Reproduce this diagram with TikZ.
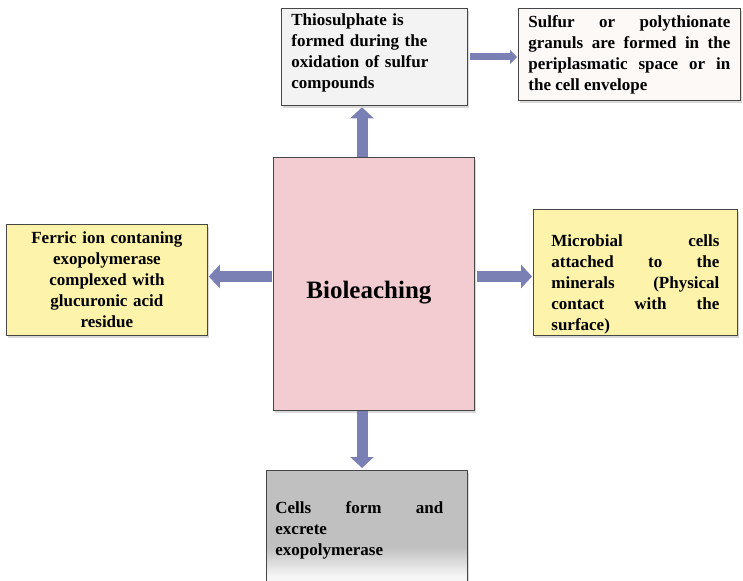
\documentclass[tikz,border=0pt]{standalone}
\usepackage{fontspec}
\setmainfont{Liberation Serif}
\usetikzlibrary{positioning}
\usetikzlibrary{arrows.meta}
\usetikzlibrary{shadows}

\definecolor{arrowblue}{RGB}{122,127,180}
\definecolor{bioPink}{RGB}{242,204,209}
\definecolor{noteYellow}{RGB}{253,243,170}
\definecolor{thioGray}{RGB}{243,243,243}
\definecolor{sulfurWhite}{RGB}{253,249,247}
\definecolor{cellGray}{RGB}{192,192,192}
\definecolor{boxLine}{RGB}{70,70,70}
\pgfdeclareverticalshading{cellshade}{100bp}{color(0bp)=(white); color(31bp)=(white!85!cellGray); color(43bp)=(cellGray); color(100bp)=(cellGray)}

\begin{document}
\begin{tikzpicture}[x=1pt,y=-1pt,font=\fontsize{17}{21}\selectfont\bfseries,
box/.style={draw=boxLine,line width=0.8pt,inner xsep=10pt,inner ysep=0pt,anchor=north west,
drop shadow={shadow xshift=1.5pt,shadow yshift=-2.5pt,opacity=0.3}},
flow/.style={arrowblue,line width=11pt,-{Triangle[width=23pt,length=11pt]}}]
\clip (0,0) rectangle (743,580);

\node[box,fill=bioPink,minimum width=201,minimum height=253,text height=35pt,
font=\fontsize{25}{30}\selectfont\bfseries](bio)at(273,157){Bioleaching\hspace*{10pt}};

\node[box,fill=thioGray,minimum width=186,minimum height=97,text width=166,align=left]
(thio)at(281,8){Thiosulphate is\\formed during the\\oxidation of sulfur\\
compounds\rule[-12pt]{0pt}{12pt}};
\node[box,fill=sulfurWhite,minimum width=222,minimum height=92,text width=202,align=justify]
(sulfur)at(518,8){Sulfur or polythionate\linebreak granuls are formed in the\linebreak
periplasmatic space or in\linebreak the cell envelope};
\node[box,fill=noteYellow,minimum width=201,minimum height=111,text width=181,align=center]
(ferric)at(6,224){Ferric ion contaning\\exopolymerase\\complexed with\\glucuronic acid\\residue};
\node[box,fill=noteYellow,minimum width=204,minimum height=126,text width=168,inner xsep=18pt,
align=justify](microbe)at(533,209){\rule{0pt}{35pt}Microbial cells\linebreak
attached to the\linebreak minerals (Physical\linebreak contact with the\linebreak surface)};
\node[box,shading=cellshade,minimum width=201,minimum height=120,text width=183,inner xsep=9pt,
align=justify](cells)at(266,470){\rightskip=15pt
Cells form and\linebreak excrete\newline exopolymerase\par};

%Arrows
\coordinate(mid)at(362,0);
\coordinate(lvl)at(0,276.5);
\draw[flow,shorten >=1.5pt](bio.north -| mid)--(thio.south -| mid);
\draw[flow,shorten >=2pt](bio.south -| mid)--(cells.north -| mid);
\draw[flow,shorten <=1pt,shorten >=1pt](bio.west |- lvl)--(ferric.east |- lvl);
\draw[flow,shorten <=2pt,shorten >=1pt](bio.east |- lvl)--(microbe.west |- lvl);
\draw[flow,line width=7pt,-{Triangle[width=14pt,length=7pt]},shorten <=2pt,shorten >=1pt]
(thio.east |- 0,57)--(sulfur.west |- 0,57);
\end{tikzpicture}
\end{document}
